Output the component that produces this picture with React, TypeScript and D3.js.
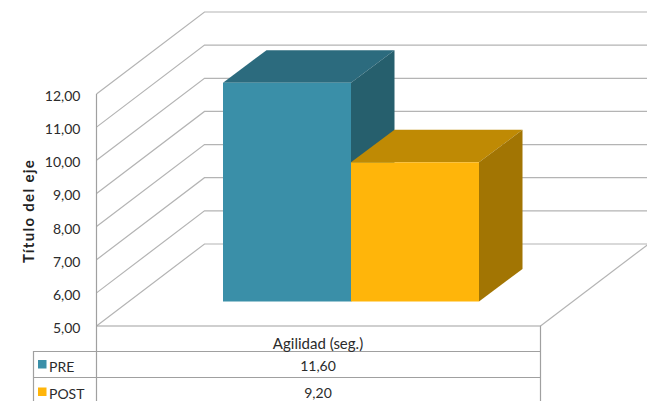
import React from "react";
import * as d3 from "d3";

const categories = ["Agilidad (seg.)"];
const seriesNames = ["PRE", "POST"];
const seriesValues = [11.6, 9.2];
const valueLabels = ["11,60", "9,20"];
const faceColors = ["#3A8FA8", "#FFB50A"];
const topColors = ["#2C6B7E", "#BF8A04"];
const sideColors = ["#265F6D", "#A27503"];
const yTicks = [5, 6, 7, 8, 9, 10, 11, 12];
const axisTitle = "Título del eje";

const WIDTH = 647;
const HEIGHT = 401;
const GRID = "#b4b4b4";
const TABLE = "#a0a0a0";
const TEXT = "#2b2b2b";
const FONT = "Lato, 'Open Sans', sans-serif";

// Oblique projection of the plot box and of the bars standing inside it
const wallDx = 108;
const wallDy = 82;
const barDx = 43.5;
const barDy = 32.5;
const barLift = 24.5;

const comma = d3.format(".2f");

export default function App() {
  const y = d3.scaleLinear().domain([5, 12]).range([326, 94]);
  const x = d3.scaleBand().domain(seriesNames).range([223, 479]);
  const floorRight = 540.5;
  const axisX = 96.5;
  const rows = [351.5, 377.5];
  const base = y(5) - barLift;

  return (
    <svg
      width={WIDTH}
      height={HEIGHT}
      style={{ position: "absolute", left: 0, top: 0, background: "#fff" }}
      fontFamily={FONT}
    >
      {yTicks.map((t) => (
        <g key={t} fill="none" stroke={GRID} strokeWidth={1.2}>
          <path
            d={`M${axisX},${y(t)}L${axisX + wallDx},${y(t) - wallDy}L${WIDTH},${y(t) - wallDy}`}
          />
        </g>
      ))}
      <path
        d={`M${floorRight},${y(5)}L${floorRight + wallDx},${y(5) - wallDy}`}
        fill="none"
        stroke={GRID}
        strokeWidth={1.2}
      />
      <path d={`M${axisX},${y(12)}V${HEIGHT}`} stroke={TABLE} strokeWidth={1.2} fill="none" />
      <path d={`M${axisX},${y(5)}H${floorRight}V${HEIGHT}`} stroke={TABLE} strokeWidth={1.2} fill="none" />
      <path d={`M33.5,${HEIGHT}V${rows[0]}H${floorRight}M33.5,${rows[1]}H${floorRight}`} stroke={TABLE} strokeWidth={1.2} fill="none" />

      {seriesNames.map((name, i) => {
        const x0 = x(name)!;
        const x1 = x0 + x.bandwidth();
        const top = y(seriesValues[i]) - barLift;
        return (
          <g key={name}>
            <path
              d={`M${x0},${top}L${x0 + barDx},${top - barDy}H${x1 + barDx}L${x1},${top}Z`}
              fill={topColors[i]}
            />
            <path
              d={`M${x1},${top}L${x1 + barDx},${top - barDy}V${base - barDy}L${x1},${base}Z`}
              fill={sideColors[i]}
            />
            <rect x={x0} y={top} width={x.bandwidth()} height={base - top} fill={faceColors[i]} />
          </g>
        );
      })}

      {yTicks.map((t) => (
        <text key={t} x={80.5} y={y(t) + 7} textAnchor="end" fontSize={14} fill={TEXT}>
          {comma(t).replace(".", ",")}
        </text>
      ))}
      <text
        transform="translate(33.5,211) rotate(-90)"
        textAnchor="middle"
        fontSize={15}
        fontWeight={700}
        letterSpacing={1.3}
        fill="#222"
      >
        {axisTitle}
      </text>

      <text x={318} y={348.5} textAnchor="middle" fontSize={15} fill={TEXT}>
        {categories[0]}
      </text>
      {seriesNames.map((name, i) => (
        <g key={name}>
          <rect x={38} y={360 + i * 27.5} width={8.5} height={8.5} fill={faceColors[i]} />
          <text x={49} y={372 + i * 26.5} fontSize={14} fill={TEXT}>
            {name}
          </text>
          <text x={318} y={371 + i * 26.5} textAnchor="middle" fontSize={14} fill={TEXT}>
            {valueLabels[i]}
          </text>
        </g>
      ))}
    </svg>
  );
}
